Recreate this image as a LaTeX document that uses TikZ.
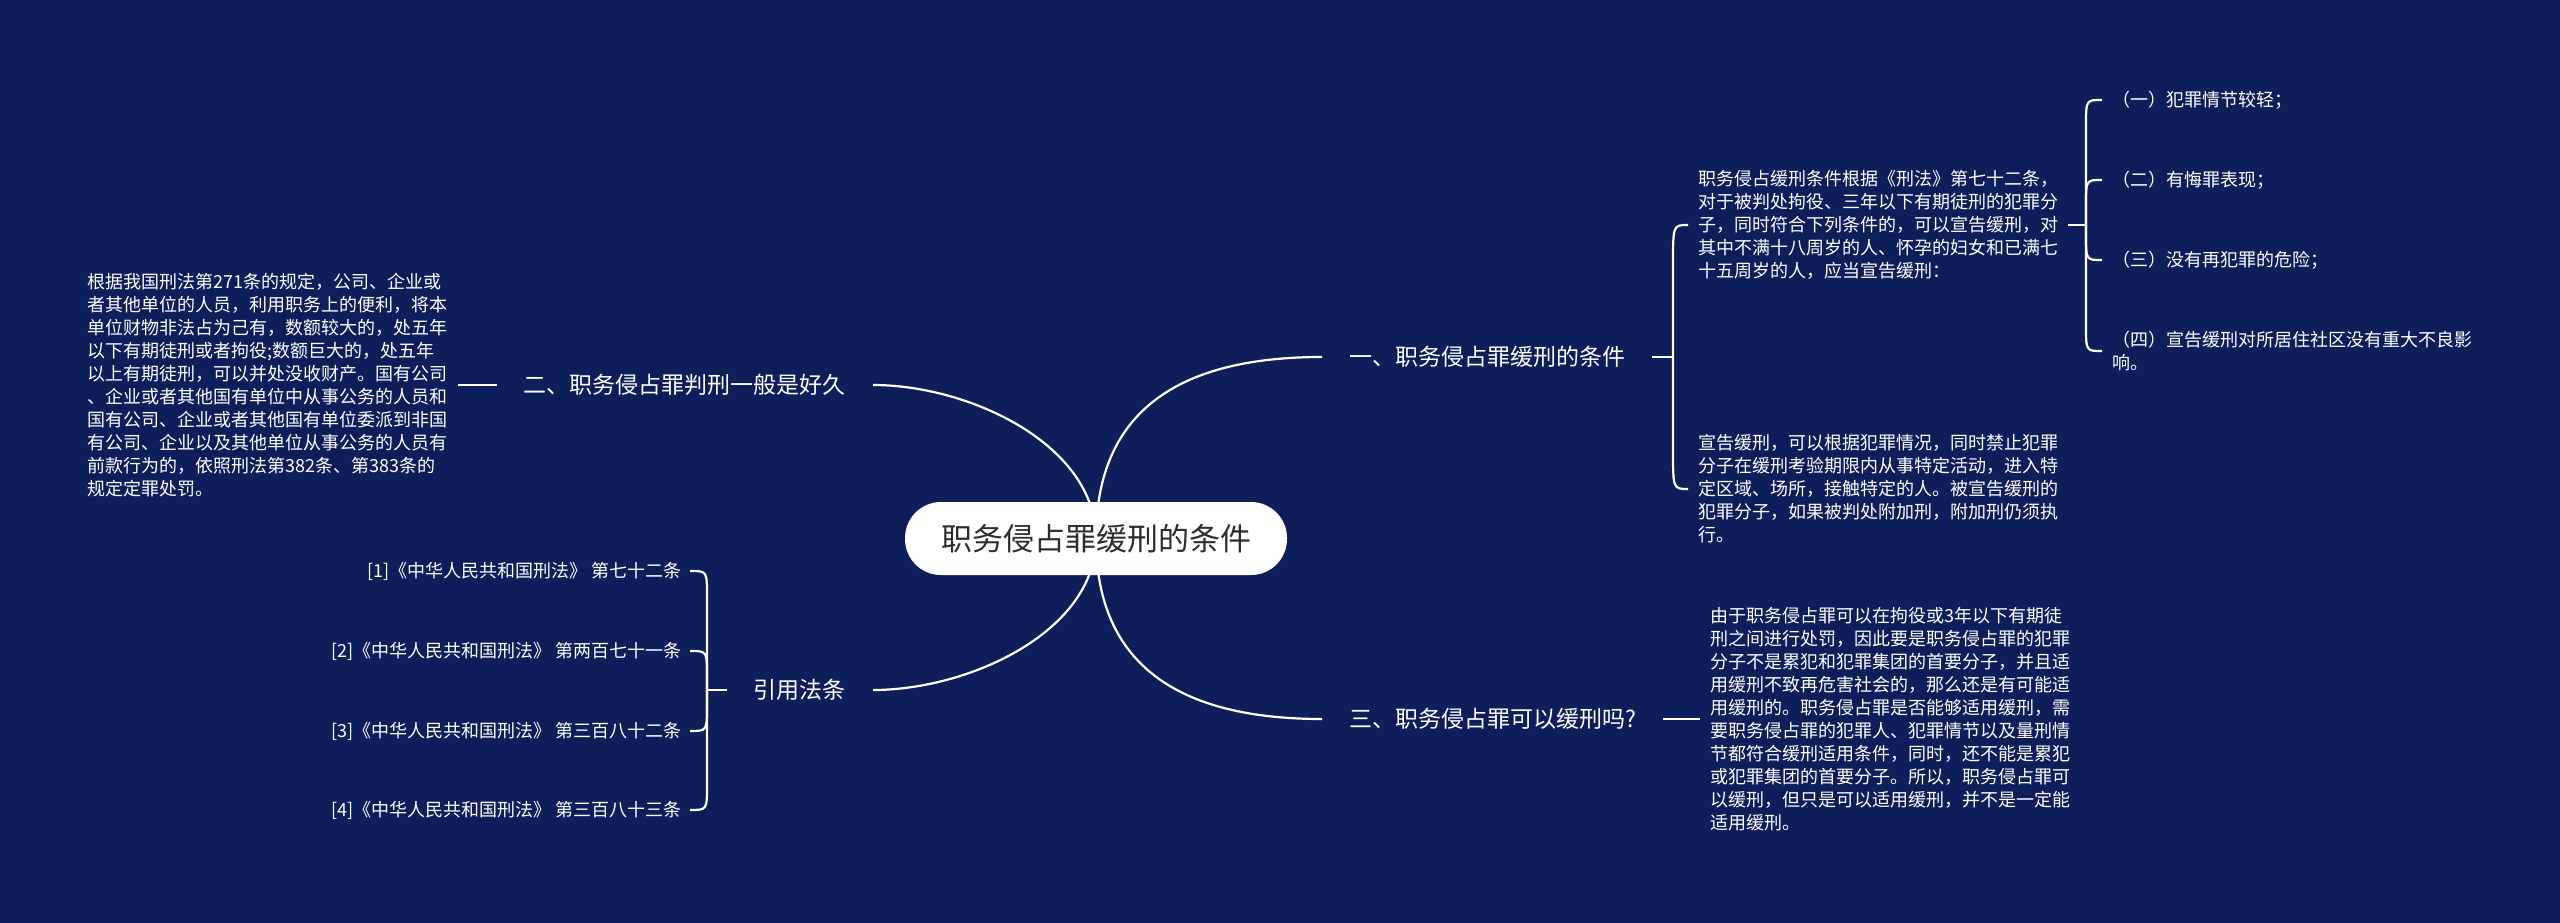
\documentclass[tikz,border=0pt]{standalone}
\usepackage{fontspec}
\setmainfont{Noto Sans CJK SC}
\usetikzlibrary{calc}
\definecolor{bgnavy}{RGB}{13,30,90}
\definecolor{roottext}{RGB}{45,45,45}
\begin{document}
\begin{tikzpicture}[x=1pt,y=-1pt,
  link/.style={draw=white,line width=2.2pt},
  lbl/.style={text=white,font=\fontsize{23}{28}\selectfont,inner xsep=27pt,inner ysep=2pt},
  txt/.style={text=white,font=\fontsize{18}{23}\selectfont,align=left,inner xsep=10pt,inner ysep=0pt},
  ref/.style={text=white,font=\fontsize{18}{23}\selectfont,inner xsep=8pt,inner ysep=0pt},
  rootbox/.style={fill=white,rounded corners=36pt,minimum width=382pt,minimum height=73pt,text=roottext,font=\fontsize{31}{36}\selectfont,inner sep=0pt}]
\fill[bgnavy] (0,0) rectangle (2560,923);
\useasboundingbox (0,0) rectangle (2560,923);

\coordinate (rc) at (1096,538.5);
\coordinate (j1) at (1673,357);
\coordinate (j2) at (2086,225);
\coordinate (j3) at (707,690);

% main labels
\node[lbl,anchor=west] (l1) at (1322,357) {一、职务侵占罪缓刑的条件};
\node[lbl,anchor=west] (l3) at (1322,719) {三、职务侵占罪可以缓刑吗?};
\node[lbl,anchor=east] (l2) at (873,385) {二、职务侵占罪判刑一般是好久};
\node[lbl,anchor=east] (l4) at (873,690) {引用法条};

% text blocks
\node[txt,anchor=east] (tL) at (458,385) {根据我国刑法第271条的规定，公司、企业或\\者其他单位的人员，利用职务上的便利，将本\\单位财物非法占为己有，数额较大的，处五年\\以下有期徒刑或者拘役;数额巨大的，处五年\\以上有期徒刑，可以并处没收财产。国有公司\\、企业或者其他国有单位中从事公务的人员和\\国有公司、企业或者其他国有单位委派到非国\\有公司、企业以及其他单位从事公务的人员有\\前款行为的，依照刑法第382条、第383条的\\规定定罪处罚。};
\node[txt,anchor=west] (t1) at (1688,225) {职务侵占缓刑条件根据《刑法》第七十二条，\\对于被判处拘役、三年以下有期徒刑的犯罪分\\子，同时符合下列条件的，可以宣告缓刑，对\\其中不满十八周岁的人、怀孕的妇女和已满七\\十五周岁的人，应当宣告缓刑：};
\node[txt,anchor=west] (t2) at (1688,489) {宣告缓刑，可以根据犯罪情况，同时禁止犯罪\\分子在缓刑考验期限内从事特定活动，进入特\\定区域、场所，接触特定的人。被宣告缓刑的\\犯罪分子，如果被判处附加刑，附加刑仍须执\\行。};
\node[txt,anchor=west] (t3) at (1700,719) {由于职务侵占罪可以在拘役或3年以下有期徒\\刑之间进行处罚，因此要是职务侵占罪的犯罪\\分子不是累犯和犯罪集团的首要分子，并且适\\用缓刑不致再危害社会的，那么还是有可能适\\用缓刑的。职务侵占罪是否能够适用缓刑，需\\要职务侵占罪的犯罪人、犯罪情节以及量刑情\\节都符合缓刑适用条件，同时，还不能是累犯\\或犯罪集团的首要分子。所以，职务侵占罪可\\以缓刑，但只是可以适用缓刑，并不是一定能\\适用缓刑。};

% items
\node[txt,anchor=west] (i1) at (2102,100) {（一）犯罪情节较轻；};
\node[txt,anchor=west] (i2) at (2102,180) {（二）有悔罪表现；};
\node[txt,anchor=west] (i3) at (2102,260) {（三）没有再犯罪的危险；};
\node[txt,anchor=west] (i4) at (2102,351) {（四）宣告缓刑对所居住社区没有重大不良影\\响。};

% references
\node[ref,anchor=east] (r1) at (690,571) {[1]《中华人民共和国刑法》 第七十二条};
\node[ref,anchor=east] (r2) at (690,651) {[2]《中华人民共和国刑法》 第两百七十一条};
\node[ref,anchor=east] (r3) at (690,731) {[3]《中华人民共和国刑法》 第三百八十二条};
\node[ref,anchor=east] (r4) at (690,810) {[4]《中华人民共和国刑法》 第三百八十三条};

% main curves
\draw[link] (rc) .. controls (1096,410) and (1180,357) .. (l1.west);
\draw[link] (rc) .. controls (1096,445) and (970,385) .. (l2.east);
\draw[link] (rc) .. controls (1096,631) and (970,690) .. (l4.east);
\draw[link] (rc) .. controls (1096,666) and (1180,719) .. (l3.west);

% branch one
\draw[link] (l1.east) -- (j1);
\draw[link] (j1) -- (1673,265) .. controls (1673,225) .. (t1.west);
\draw[link] (j1) -- (1673,449) .. controls (1673,489) .. (t2.west);
\draw[link] (t1.east) -- (j2);
\draw[link] (j2) -- (2086,125) .. controls (2086,100) .. (i1.west);
\draw[link] (j2) -- (2086,205) .. controls (2086,180) .. (i2.west);
\draw[link] (j2) -- (2086,235) .. controls (2086,260) .. (i3.west);
\draw[link] (j2) -- (2086,326) .. controls (2086,351) .. (i4.west);

% branch two, three
\draw[link] (tL.east) -- (l2.west);
\draw[link] (l3.east) -- (t3.west);

% references bracket
\draw[link] (l4.west) -- (j3);
\draw[link] (j3) -- (707,596) .. controls (707,571) .. (r1.east);
\draw[link] (j3) -- (707,676) .. controls (707,651) .. (r2.east);
\draw[link] (j3) -- (707,706) .. controls (707,731) .. (r3.east);
\draw[link] (j3) -- (707,785) .. controls (707,810) .. (r4.east);

% root
\node[rootbox] (root) at (rc) {职务侵占罪缓刑的条件};
\end{tikzpicture}
\end{document}
